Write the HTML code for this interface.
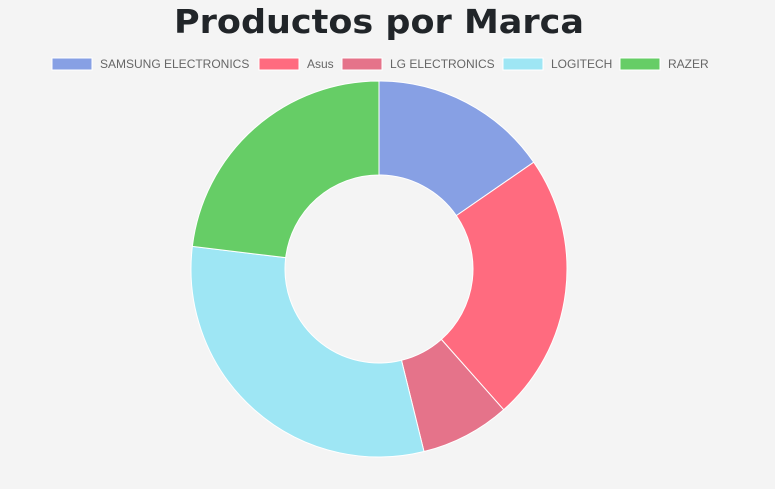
<!DOCTYPE html>
<html><head><meta charset="utf-8">
<style>
html,body{margin:0;padding:0;background:#f4f4f4;}
svg{display:block;}
</style></head>
<body>
<svg id="chart" width="775" height="489" xmlns="http://www.w3.org/2000/svg">
<rect width="775" height="489" fill="#f4f4f4"/>
<text x="379" y="33" text-anchor="middle" font-family="'DejaVu Sans','Liberation Sans',sans-serif" font-weight="bold" font-size="33" fill="#212529" textLength="410" lengthAdjust="spacingAndGlyphs">Productos por Marca</text>
<g id="legend"></g>
<g id="slices"></g>
</svg>
<script>
const categories = ["SAMSUNG ELECTRONICS","Asus","LG ELECTRONICS","LOGITECH","RAZER"];
const values = [2,3,1,4,3];
const colors = ["#87a0e4","#ff6b7f","#e5738a","#9ee6f4","#66cd66"];
const legendBoxX = [52,259,342,503,620];

const NS="http://www.w3.org/2000/svg";
const cx=379, cy=269, R=188, r=94;
const total = values.reduce((a,b)=>a+b,0);
const sg=document.getElementById('slices');
let a0=0;
function pt(rad,a){return [cx+rad*Math.sin(a), cy-rad*Math.cos(a)];}
values.forEach((v,i)=>{
  const a1=a0+v/total*2*Math.PI;
  const large=(a1-a0)>Math.PI?1:0;
  const [x0,y0]=pt(R,a0),[x1,y1]=pt(R,a1),[x2,y2]=pt(r,a1),[x3,y3]=pt(r,a0);
  const p=document.createElementNS(NS,'path');
  p.setAttribute('d',`M${x0},${y0}A${R},${R} 0 ${large} 1 ${x1},${y1}L${x2},${y2}A${r},${r} 0 ${large} 0 ${x3},${y3}Z`);
  p.setAttribute('fill',colors[i]);
  p.setAttribute('stroke','#fff');
  p.setAttribute('stroke-width','1');
  
  
  sg.appendChild(p);
  a0=a1;
});
const lg=document.getElementById('legend');
categories.forEach((c,i)=>{
  const g=document.createElementNS(NS,'g');
  
  
  const b=document.createElementNS(NS,'rect');
  b.setAttribute('x',legendBoxX[i]);b.setAttribute('y',58);
  b.setAttribute('width',40);b.setAttribute('height',12);
  b.setAttribute('fill',colors[i]);b.setAttribute('stroke','#fff');
  
  
  const t=document.createElementNS(NS,'text');
  t.setAttribute('x',legendBoxX[i]+48);t.setAttribute('y',68);
  t.setAttribute('font-family',"'Liberation Sans',sans-serif");
  t.setAttribute('font-size','12');t.setAttribute('fill','#666');
  
  
  t.textContent=c;
  g.appendChild(b);g.appendChild(t);lg.appendChild(g);
});
</script>
</body></html>
